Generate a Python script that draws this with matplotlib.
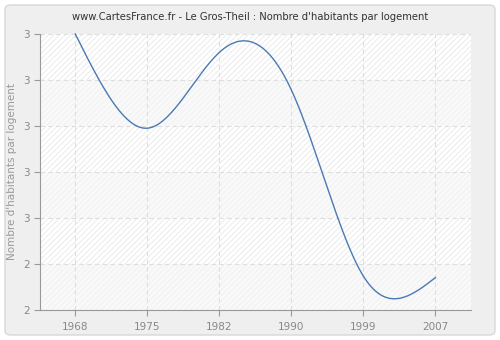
import numpy as np
import matplotlib
matplotlib.use("Agg")
import matplotlib.pyplot as plt
from matplotlib.patches import FancyBboxPatch, Rectangle

# ---- data ----
years = ["1968", "1975", "1982", "1990", "1999", "2007"]
values = [3.0, 2.744, 2.950, 2.848, 2.342, 2.338]
ytick_values = [2.25, 2.375, 2.5, 2.625, 2.75, 2.875, 3.0]
ytick_labels = ["2", "2", "3", "3", "3", "3", "3"]
title = "www.CartesFrance.fr - Le Gros-Theil : Nombre d'habitants par logement"
ylabel = "Nombre d'habitants par logement"


def natural_spline(x, y, xs):
    x = np.asarray(x, float); y = np.asarray(y, float)
    n = len(x)
    h = np.diff(x)
    A = np.zeros((n, n)); b = np.zeros(n)
    A[0, 0] = 1; A[-1, -1] = 1
    for i in range(1, n - 1):
        A[i, i - 1] = h[i - 1]
        A[i, i] = 2 * (h[i - 1] + h[i])
        A[i, i + 1] = h[i]
        b[i] = 3 * ((y[i + 1] - y[i]) / h[i] - (y[i] - y[i - 1]) / h[i - 1])
    c = np.linalg.solve(A, b)
    out = np.empty_like(xs)
    for k, xv in enumerate(xs):
        i = min(max(np.searchsorted(x, xv) - 1, 0), n - 2)
        dx = xv - x[i]
        bb = (y[i + 1] - y[i]) / h[i] - h[i] * (2 * c[i] + c[i + 1]) / 3
        d = (c[i + 1] - c[i]) / (3 * h[i])
        out[k] = y[i] + bb * dx + c[i] * dx ** 2 + d * dx ** 3
    return out


fig = plt.figure(figsize=(5, 3.4), dpi=100)
fig.patch.set_facecolor("white")
box = FancyBboxPatch((5 / 500, 5 / 340), 490 / 500, 330 / 340,
                     boxstyle="round,pad=0,rounding_size=0.012",
                     transform=fig.transFigure, facecolor="#efefef",
                     edgecolor="#d8d8d8", linewidth=1, zorder=-10)
fig.patches.append(box)

ax = fig.add_axes([40 / 500, 30 / 340, 430.7 / 500, 276 / 340])
ax.set_zorder(1)
ax.set_facecolor("#fdfdfd")
ymin, ymax = ytick_values[0], ytick_values[-1]
ax.set_xlim(-0.49, len(years) - 0.51)
ax.set_ylim(ymin, ymax)

plt.rcParams["hatch.linewidth"] = 0.6
# alternating hatched bands
for i in range(len(ytick_values) - 1):
    strong = (len(ytick_values) - 2 - i) % 2 == 0
    ax.add_patch(Rectangle((-0.49, ytick_values[i]), len(years),
                           ytick_values[i + 1] - ytick_values[i],
                           facecolor="#ffffff" if strong else "#f9f9f9",
                           edgecolor="#e8e8e8" if strong else "#f0f0f0",
                           hatch="//////", linewidth=0, zorder=0))

xs = np.linspace(0, len(years) - 1, 500)
ys = natural_spline(np.arange(len(years)), values, xs)
ax.plot(xs, ys, color="#4a7ab3", linewidth=1.0, zorder=3, clip_on=False)

ax.set_xticks(range(len(years)))
ax.set_xticklabels(years)
ax.set_yticks(ytick_values)
ax.set_yticklabels(ytick_labels)
ax.grid(True, color="#dedede", linestyle=(0, (4, 3)), linewidth=0.8, zorder=1)
ax.set_axisbelow(True)
for s in ["top", "right"]:
    ax.spines[s].set_visible(False)
for s in ["left", "bottom"]:
    ax.spines[s].set_color("#999999")
ax.tick_params(axis="both", colors="#999999", labelcolor="#888888",
               labelsize=7.5, length=4, width=0.8)
ax.tick_params(axis="x", pad=5)
ax.set_ylabel(ylabel, color="#999999", fontsize=7.5, labelpad=4)
fig.text(0.5, 1 - 17 / 340, title, ha="center", va="center",
         fontsize=7.2, color="#333333")

fig.savefig("out.png", dpi=100, facecolor="white")
